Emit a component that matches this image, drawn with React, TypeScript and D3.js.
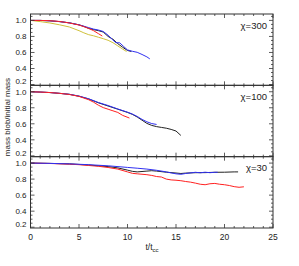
import React from "react";
import * as d3 from "d3";

type Pt = [number, number];

const xTicks = [0, 5, 10, 15, 20, 25];
const yTicks = [0.2, 0.4, 0.6, 0.8, 1.0];
const panelLabels = ["χ=300", "χ=100", "χ=30"];

// χ=300
const black300: Pt[] = [[0,1.0],[1,1.0],[2,0.995],[3,0.985],[4,0.97],[5,0.945],[5.5,0.925],[6,0.9],[6.5,0.885],[7,0.872],[7.5,0.855],[8,0.8],[8.5,0.765],[9,0.71],[9.5,0.665],[10,0.625],[10.4,0.612]];
const blue300: Pt[] = [[0,1.0],[1,1.0],[2,0.995],[3,0.985],[4,0.97],[5,0.945],[6,0.91],[6.5,0.892],[7,0.88],[7.5,0.862],[8,0.815],[8.5,0.755],[8.8,0.722],[9.2,0.72],[9.6,0.675],[10,0.632],[10.5,0.615],[11,0.602],[11.5,0.575],[12,0.545],[12.3,0.52]];
const yellow300: Pt[] = [[0,1.0],[1,0.985],[2,0.968],[3,0.945],[4,0.918],[5,0.872],[5.5,0.845],[6,0.822],[6.5,0.808],[7,0.79],[7.5,0.772],[8,0.752],[8.5,0.722],[9,0.682],[9.5,0.642],[9.9,0.612]];
const red300: Pt[] = [[0,1.0],[1,1.0],[2,0.996],[3,0.987],[4,0.968],[5,0.942],[5.5,0.922],[6,0.9],[6.5,0.872],[7,0.835],[7.4,0.805]];

// χ=100
const black100: Pt[] = [[0,1.0],[1,0.996],[2,0.99],[3,0.98],[4,0.968],[5,0.944],[6,0.91],[7,0.862],[8,0.822],[9,0.782],[10,0.742],[10.5,0.718],[11,0.685],[11.5,0.645],[12,0.605],[12.5,0.58],[13,0.565],[13.5,0.555],[14,0.545],[14.5,0.53],[15,0.51],[15.5,0.455]];
const blue100: Pt[] = [[0,1.0],[1,0.996],[2,0.99],[3,0.98],[4,0.968],[5,0.946],[6,0.912],[7,0.866],[8,0.828],[9,0.785],[10,0.745],[10.5,0.722],[11,0.692],[11.5,0.655],[12,0.625],[12.5,0.603],[13,0.592]];
const red100: Pt[] = [[0,1.0],[1,0.996],[2,0.99],[3,0.98],[4,0.966],[5,0.942],[6,0.9],[6.5,0.87],[7,0.832],[7.5,0.802],[8,0.782],[8.5,0.762],[9,0.742],[9.5,0.705],[10.2,0.672]];

// χ=30
const black30: Pt[] = [[0,1.0],[2,0.996],[4,0.99],[6,0.976],[8,0.956],[9,0.94],[10,0.912],[10.5,0.897],[11,0.89],[12,0.9],[12.5,0.905],[13,0.9],[14,0.886],[15,0.876],[15.5,0.87],[16,0.875],[17,0.88],[18,0.881],[19,0.885],[20,0.886],[21,0.89],[21.4,0.89]];
const blue30: Pt[] = [[0,1.0],[2,0.996],[4,0.99],[6,0.98],[8,0.966],[10,0.946],[11,0.936],[12,0.925],[13,0.91],[14,0.89],[14.5,0.877],[15,0.866],[15.5,0.86],[16,0.87],[17,0.885],[17.5,0.879],[18,0.886],[18.5,0.88],[19,0.885],[19.3,0.885]];
const red30: Pt[] = [[0,1.0],[2,0.995],[4,0.986],[5,0.98],[6,0.97],[7,0.96],[8,0.945],[9,0.925],[10,0.89],[10.5,0.872],[11,0.866],[12,0.855],[12.5,0.846],[13,0.832],[13.5,0.826],[14,0.8],[14.5,0.79],[15,0.786],[15.5,0.78],[16,0.77],[16.5,0.762],[17,0.75],[17.5,0.736],[18,0.73],[18.5,0.742],[19,0.746],[19.5,0.736],[20,0.73],[20.5,0.72],[21,0.706],[21.5,0.698],[22,0.704]];

const COLORS = { black: "#222222", blue: "#3030f0", red: "#ff2020", yellow: "#cfc03a" };

const panels: { label: string; series: { data: Pt[]; color: string }[] }[] = [
  { label: panelLabels[0], series: [
    { data: yellow300, color: COLORS.yellow },
    { data: black300, color: COLORS.black },
    { data: blue300, color: COLORS.blue },
    { data: red300, color: COLORS.red },
  ] },
  { label: panelLabels[1], series: [
    { data: black100, color: COLORS.black },
    { data: blue100, color: COLORS.blue },
    { data: red100, color: COLORS.red },
  ] },
  { label: panelLabels[2], series: [
    { data: black30, color: COLORS.black },
    { data: red30, color: COLORS.red },
    { data: blue30, color: COLORS.blue },
  ] },
];

const W = 299, H = 266;
const left = 30.5, right = 273;
const top = 14, bottom = 228;
const ph = (bottom - top) / 3;
const font = "'Liberation Sans', Arial, Helvetica, sans-serif";
const axisColor = "#333";

export default function App() {
  const x = d3.scaleLinear().domain([0, 25]).range([left, right]);
  const minorX = d3.range(0, 26, 1);
  const minorY = d3.range(0.2, 1.08, 0.05);

  return (
    <svg width={W} height={H} style={{ position: "absolute", left: 0, top: 0, background: "#fff" }}>
      {panels.map((p, i) => {
        const y0 = top + i * ph;
        const y = d3.scaleLinear().domain([0.19, 1.08]).range([y0 + ph, y0]);
        const line = d3.line<Pt>().x(d => x(d[0])).y(d => y(d[1])).curve(d3.curveLinear);
        return (
          <g key={i}>
            <defs>
              <clipPath id={`clip${i}`}>
                <rect x={left} y={y0} width={right - left} height={ph} />
              </clipPath>
            </defs>
            <g clipPath={`url(#clip${i})`}>
              {p.series.map((s, j) => (
                <path key={j} d={line(s.data) || ""} fill="none" stroke={s.color} strokeWidth={1} />
              ))}
            </g>
            <rect x={left} y={y0} width={right - left} height={ph} fill="none" stroke={axisColor} strokeWidth={1} />
            {minorX.map(t => {
              const major = t % 5 === 0;
              const len = major ? 4 : 2;
              return (
                <g key={`xt${t}`} stroke={axisColor} strokeWidth={0.8}>
                  <line x1={x(t)} x2={x(t)} y1={y0 + ph} y2={y0 + ph - len} />
                  <line x1={x(t)} x2={x(t)} y1={y0} y2={y0 + len} />
                </g>
              );
            })}
            {minorY.map((v, k) => {
              const major = Math.abs(v * 5 - Math.round(v * 5)) < 1e-6;
              const len = major ? 4 : 2;
              return (
                <g key={`yt${k}`} stroke={axisColor} strokeWidth={0.8}>
                  <line x1={left} x2={left + len} y1={y(v)} y2={y(v)} />
                  <line x1={right} x2={right - len} y1={y(v)} y2={y(v)} />
                </g>
              );
            })}
            {yTicks.map(v => (
              <text key={`yl${v}`} x={left - 4} y={y(v) - (v < 0.3 ? 3 : 0)} dy="0.35em" textAnchor="end" fontSize={8} fontFamily={font} fill="#222">
                {v.toFixed(1)}
              </text>
            ))}
            <text x={right - 6} y={y(1.0) + 5} dy="0.35em" textAnchor="end" fontSize={9.5} fontFamily={font} fill="#222">
              {p.label}
            </text>
          </g>
        );
      })}
      {xTicks.map(t => (
        <text key={`xl${t}`} x={x(t)} y={239.5} textAnchor="middle" fontSize={8.5} fontFamily={font} fill="#222">
          {t}
        </text>
      ))}
      <text x={152} y={250} textAnchor="middle" fontSize={8.5} fontFamily={font} fill="#222">
        t/t<tspan fontSize={6} dy={2}>cc</tspan>
      </text>
      <text transform="translate(10,117) rotate(-90)" textAnchor="middle" fontSize={8} fontFamily={font} fill="#222">
        mass blob/initial mass
      </text>
    </svg>
  );
}
